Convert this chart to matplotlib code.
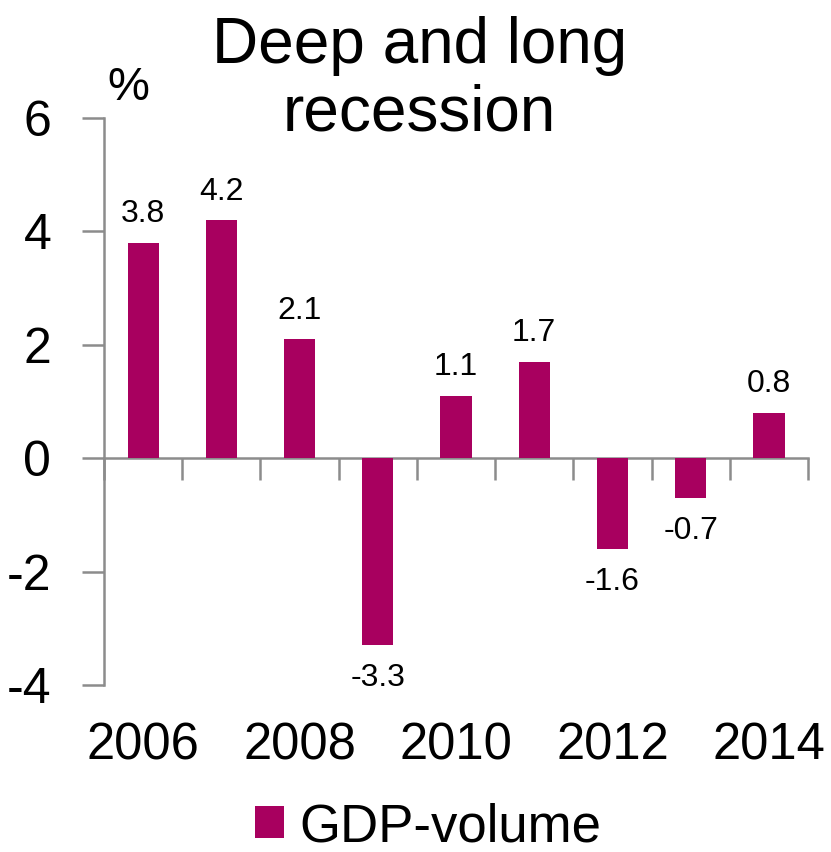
import matplotlib
matplotlib.use('Agg')
import matplotlib.pyplot as plt
import numpy as np

plt.rcParams['font.family'] = ['Liberation Sans', 'DejaVu Sans']

# GDP volume change, %
years = [2006, 2007, 2008, 2009, 2010, 2011, 2012, 2013, 2014]
gdp_volume = [3.8, 4.2, 2.1, -3.3, 1.1, 1.7, -1.6, -0.7, 0.8]
year_labels = ['2006', '', '2008', '', '2010', '', '2012', '', '2014']

bar_color = '#A8005F'
axis_color = '#8C8C8C'

fig = plt.figure(figsize=(8.31, 8.52), dpi=100)
ax = fig.add_axes([0.1252, 0.196, 0.8471, 0.6655])

x = np.arange(len(years))
bars = ax.bar(x, gdp_volume, width=0.4, color=bar_color, label='GDP-volume',
              zorder=3)

ax.set_xlim(-0.5, len(years) - 0.5)
ax.set_ylim(-4, 6)
ax.set_yticks([-4, -2, 0, 2, 4, 6])
ax.set_yticklabels(['-4', '-2', '0', '2', '4', '6'], fontsize=36)

# x axis drawn at zero, with ticks between the categories
for side in ('top', 'right'):
    ax.spines[side].set_visible(False)
ax.spines['bottom'].set_position(('data', 0))
ax.spines['bottom'].set_color(axis_color)
ax.spines['left'].set_color(axis_color)
ax.spines['bottom'].set_linewidth(1.8)
ax.spines['left'].set_linewidth(1.8)
ax.set_xticks(np.arange(len(years) + 1) - 0.5)
ax.set_xticklabels([])
ax.tick_params(axis='x', length=16, width=1.8, color=axis_color, direction='out')
ax.tick_params(axis='y', length=16, width=1.8, color=axis_color, pad=22)

# year labels below the plot area
for xi, lab in zip(x, year_labels):
    if lab:
        ax.text(xi, -4.0 - 1.08, lab, ha='center', va='center', fontsize=36.5)

# value labels
for xi, v in zip(x, gdp_volume):
    off = 0.5 if v >= 0 else -0.58
    ax.text(xi, v + off, f'{v:.1f}', ha='center', va='center', fontsize=23)

fig.text(0.505, 1 - 80 / 852, 'Deep and long\nrecession', ha='center',
         va='center', fontsize=46, linespacing=1.16)
fig.text(128 / 831, 1 - 88 / 852, '%', ha='center', va='center', fontsize=34)

fig.legend(handles=[bars], labels=['GDP-volume'], loc='center',
           bbox_to_anchor=(428 / 831, 1 - 827 / 852), frameon=False,
           fontsize=38, handlelength=0.55, handleheight=0.55, handletextpad=0.3,
           borderpad=0.1)

fig.savefig('out.png', dpi=100)
